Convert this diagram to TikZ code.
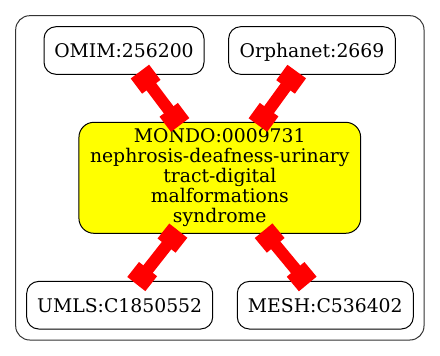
\documentclass[tikz,border=0pt]{standalone}
\usepackage{fontspec}
\setmainfont{DejaVu Serif}
\usetikzlibrary{arrows.meta}
\definecolor{focusfill}{RGB}{255,255,0}
\definecolor{linkred}{RGB}{255,0,0}
\begin{document}
\begin{tikzpicture}[x=1pt,y=-1pt,
  nodebase/.style={draw=black, line width=1pt, inner sep=0pt,
    font=\fontsize{18.8}{20}\selectfont},
  term/.style={nodebase, rounded corners=12pt, text height=13.6pt,
    text depth=0pt, minimum height=47.6pt},
  focus/.style={nodebase, fill=focusfill, align=center, rounded corners=15pt,
    minimum width=281.7pt, minimum height=111pt},
  cluster/.style={draw=black!80, line width=1pt, rounded corners=14pt},
  link/.style={draw=linkred, line width=12pt,
    {Rectangle[length=19pt,width=23pt]}-{Rectangle[length=19pt,width=23pt]},
    shorten <=-4pt, shorten >=-4pt}
]
\useasboundingbox (0,0) rectangle (440,356);
\draw[cluster] (15.7,15.7) rectangle (424,340);

\node[term, minimum width=160pt]   (omim)     at (124,50.5)   {OMIM:256200};
\node[term, minimum width=166.7pt] (orphanet) at (312,50.5)   {Orphanet:2669};
\node[focus]                       (mondo)    at (219.8,177.8)
  {MONDO:0009731\\nephrosis-deafness-urinary\\tract-digital\\malformations\\syndrome};
\node[term, minimum width=186pt]   (umls)     at (119.7,305.2) {UMLS:C1850552};
\node[term, minimum width=176pt]   (mesh)     at (325.3,305.2) {MESH:C536402};

\draw[link] (omim) -- (mondo);
\draw[link] (orphanet) -- (mondo);
\draw[link] (mondo) -- (umls);
\draw[link] (mondo) -- (mesh);
\end{tikzpicture}
\end{document}
